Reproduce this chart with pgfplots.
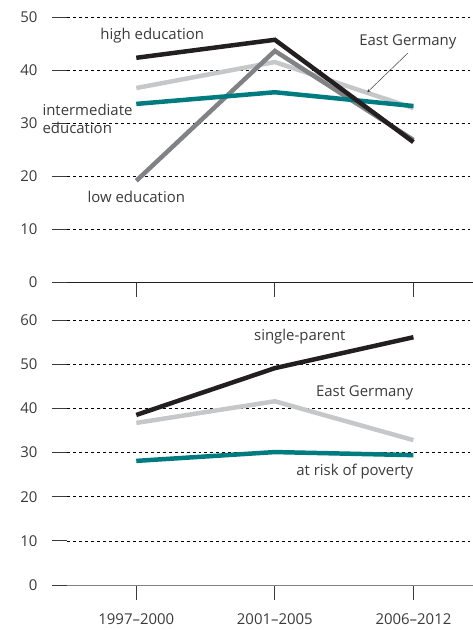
\documentclass[border=0pt]{standalone}
\usepackage{pgfplots}
\pgfplotsset{compat=1.18}
\usepackage{fontspec}
\setmainfont{Open Sans}

\definecolor{darkline}{HTML}{231F20}
\definecolor{lightline}{HTML}{C6C7C8}
\definecolor{midline}{HTML}{808285}
\definecolor{tealline}{HTML}{007B80}
\definecolor{txt}{HTML}{3A3A3A}

\newcommand{\lab}{\fontsize{15}{18}\selectfont}

\pgfplotsset{
  panel/.style={
    scale only axis,
    width=406bp,
    height=265bp,
    xmin=-0.5, xmax=2.43,
    ymin=0,
    axis x line*=bottom,
    axis y line*=left,
    separate axis lines,
    x axis line style={darkline, line width=0.8pt},
    y axis line style={draw=none},
    xtick={0,1,2},
    tick align=outside,
    major tick length=15bp,
    tick style={txt, line width=0.8pt},
    ymajorgrids=true,
    grid style={black, dashed, line width=0.6pt},
    clip=false,
    ticklabel style={font=\lab, text=txt},
    yticklabel style={xshift=-11bp},
    xticklabel style={yshift=-10bp},
    /pgf/number format/assume math mode=true,
  },
  ser/.style={line width=4.5pt, line join=miter},
}

\begin{document}
\begin{tikzpicture}
\useasboundingbox (0,0) rectangle (473bp,630bp);

% top panel
\begin{axis}[panel,
  at={(67bp,348bp)}, anchor=south west,
  ymax=50, ytick={0,10,...,50},
  xticklabels={},
]
\addplot[ser, lightline] coordinates {(0,36.6) (1,41.5) (2,32.8)};
\addplot[ser, midline] coordinates {(0,19.1) (1,43.6) (2,26.8)};
\addplot[ser, tealline] coordinates {(0,33.6) (1,35.8) (2,33.2)};
\addplot[ser, darkline] coordinates {(0,42.3) (1,45.7) (2,26.4)};

\node[text=txt, font=\lab] at (axis cs:0.115,46.4) {high education};
\node[text=txt, font=\lab] at (axis cs:1.96,45.3) {East Germany};
\draw[-stealth, txt, line width=0.5pt] (axis cs:1.96,43.2) -- (axis cs:1.667,35.8);
\node[text=txt, font=\lab, align=left, anchor=west, inner sep=0pt]
  at (axis cs:-0.678,30.75) {intermediate\\education};
\node[text=txt, font=\lab] at (axis cs:0,16.0) {low education};
\end{axis}

% bottom panel
\begin{axis}[panel,
  at={(67bp,45bp)}, anchor=south west,
  ymax=60, ytick={0,10,...,60},
  x axis line style={midline, line width=0.8pt},
  xticklabels={1997--2000, 2001--2005, 2006--2012},
]
\addplot[ser, lightline] coordinates {(0,36.7) (1,41.6) (2,32.8)};
\addplot[ser, tealline] coordinates {(0,28.1) (1,30.1) (2,29.4)};
\addplot[ser, darkline] coordinates {(0,38.5) (1,49.1) (2,56.1)};

\node[text=txt, font=\lab] at (axis cs:1.18,56.3) {single-parent};
\node[text=txt, font=\lab, anchor=east, inner sep=0pt] at (axis cs:2.0,43.4) {East Germany};
\node[text=txt, font=\lab, anchor=east, inner sep=0pt] at (axis cs:2.0,25.6) {at risk of poverty};
\end{axis}
\end{tikzpicture}
\end{document}
